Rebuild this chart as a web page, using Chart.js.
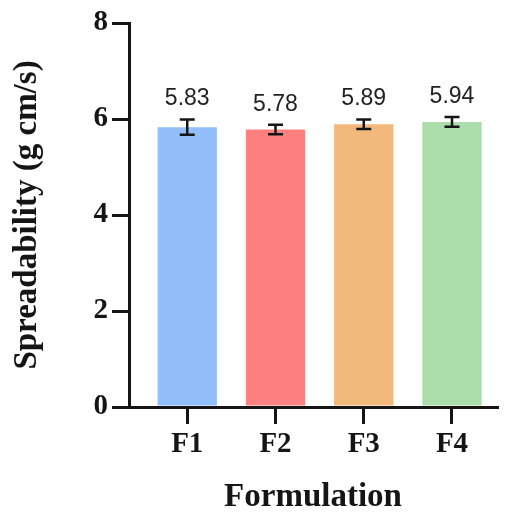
<!DOCTYPE html>
<html>
<head>
<meta charset="utf-8">
<script src="https://cdn.jsdelivr.net/npm/chart.js@4/dist/chart.umd.min.js"></script>
<style>
html,body{margin:0;padding:0;background:#fff;}
#wrap{width:509px;height:514px;}
</style>
</head>
<body>
<div id="wrap"><canvas id="c" width="509" height="514"></canvas></div>
<script>
const categories = ['F1', 'F2', 'F3', 'F4'];
const values = [5.83, 5.78, 5.89, 5.94];
const errors = [0.16, 0.10, 0.10, 0.10];
const barColors = ['#92BFF9', '#FF8080', '#F2B87C', '#ABDEAB'];
const yTicks = [0, 2, 4, 6, 8];

const serif = '"Liberation Serif", "Times New Roman", serif';
const ink = '#151515';

const errorBars = {
  id: 'errorBars',
  afterDatasetsDraw(chart) {
    const ctx = chart.ctx, x = chart.scales.x, y = chart.scales.y;
    ctx.save();
    ctx.strokeStyle = ink;
    ctx.lineWidth = 2.5;
    values.forEach((v, i) => {
      const px = x.getPixelForValue(i + 1);
      const top = y.getPixelForValue(v + errors[i]);
      const bot = y.getPixelForValue(v - errors[i]);
      const cw = 7.5;
      ctx.beginPath();
      ctx.moveTo(px, top); ctx.lineTo(px, bot);
      ctx.moveTo(px - cw, top); ctx.lineTo(px + cw, top);
      ctx.moveTo(px - cw, bot); ctx.lineTo(px + cw, bot);
      ctx.stroke();
      ctx.fillStyle = '#222';
      ctx.font = '23px "Liberation Sans", Arial, sans-serif';
      ctx.textAlign = 'center';
      ctx.textBaseline = 'bottom';
      ctx.fillText(v.toFixed(2), px, top - 9);
    });
    ctx.restore();
  }
};

new Chart(document.getElementById('c'), {
  type: 'bar',
  data: {
    datasets: [{
      data: values.map((v, i) => ({ x: i + 1, y: v })),
      backgroundColor: barColors,
      borderWidth: 0,
      barPercentage: 0.84,
      categoryPercentage: 0.8
    }]
  },
  plugins: [errorBars],
  options: {
    responsive: false,
    animation: false,
    layout: { padding: { top: 23, right: 12, left: 0, bottom: 0 } },
    plugins: { legend: { display: false }, tooltip: { enabled: false } },
    scales: {
      x: {
        type: 'linear',
        offset: false,
        min: 0.34,
        max: 4.51,
        afterBuildTicks: s => { s.ticks = categories.map((c, i) => ({ value: i + 1 })); },
        afterFit: s => { s.height = 107; },
        ticks: {
          callback: v => categories[Math.round(v) - 1],
          font: { family: serif, size: 29, weight: 'bold' },
          color: ink,
          padding: 3,
          maxRotation: 0,
          autoSkip: false
        },
        grid: { offset: false, drawOnChartArea: false, drawTicks: true, tickLength: 17, color: ink, lineWidth: 3 },
        border: { display: true, color: ink, width: 3 },
        title: {
          display: true,
          text: 'Formulation',
          font: { family: serif, size: 33, weight: 'bold', lineHeight: 1.0 },
          color: ink,
          padding: { top: 0, bottom: 0 }
        }
      },
      y: {
        min: 0,
        max: 8,
        afterBuildTicks: s => { s.ticks = yTicks.map(v => ({ value: v })); },
        afterFit: s => { s.width = 129; },
        ticks: {
          font: { family: serif, size: 29, weight: 'bold' },
          color: ink,
          padding: 4
        },
        grid: { drawOnChartArea: false, drawTicks: true, tickLength: 17, color: ink, lineWidth: 3 },
        border: { display: true, color: ink, width: 3 },
        title: {
          display: true,
          text: 'Spreadability (g cm/s)',
          font: { family: serif, size: 33, weight: 'bold', lineHeight: 1.0 },
          color: ink,
          padding: { top: 11, bottom: 0 }
        }
      }
    }
  }
});
</script>
</body>
</html>
